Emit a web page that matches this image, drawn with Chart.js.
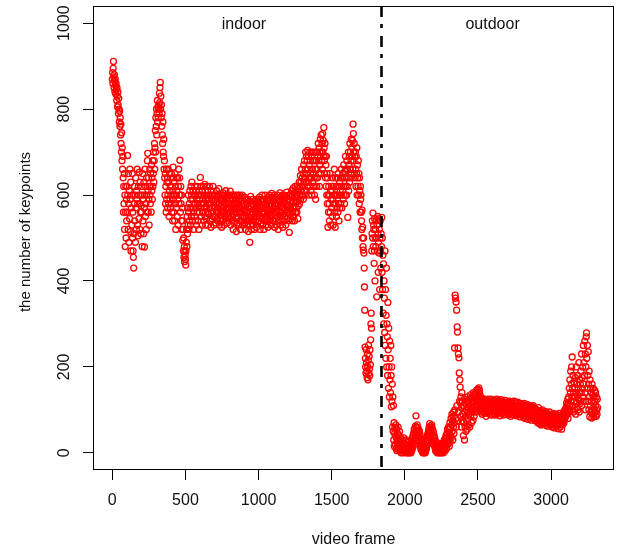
<!DOCTYPE html>
<html>
<head>
<meta charset="utf-8">
<script src="https://cdn.jsdelivr.net/npm/chart.js@4/dist/chart.umd.min.js"></script>
<style>
  body { margin: 0; background: #fff; }
</style>
</head>
<body>
<canvas id="keypoints" width="621" height="550"></canvas>
<script>
// keypoint count per video frame, one reading every 2 frames (10 readings = 20 frames per row)
const frameStep = 2;
const keypoints = [
    // 0 - 98
    870, 885, 860, 895, 911, 875, 850, 880, 865, 840,
    870, 855, 835, 860, 845, 820, 850, 830, 805, 840,
    810, 790, 825, 800, 770, 795, 760, 780, 740, 765,
    720, 700, 745, 680, 710, 660, 690, 640, 560, 620,
    580, 650, 520, 600, 480, 560, 620, 500, 590, 540,
    // 100 - 198
    620, 560, 692, 600, 520, 650, 580, 490, 610, 545,
    660, 590, 515, 630, 470, 570, 600, 530, 650, 500,
    560, 470, 455, 430, 510, 580, 620, 540, 600, 490,
    640, 570, 520, 610, 590, 660, 530, 580, 505, 620,
    600, 545, 653, 580, 520, 630, 560, 600, 510, 575,
    // 200 - 298
    560, 620, 480, 600, 650, 540, 590, 510, 630, 570,
    479, 600, 660, 550, 620, 580, 520, 640, 600, 560,
    680, 697, 610, 560, 640, 590, 530, 620, 660, 600,
    580, 650, 620, 560, 670, 610, 640, 590, 680, 620,
    650, 700, 630, 680, 720, 660, 710, 750, 700, 780,
    // 300 - 398
    760, 800, 740, 790, 820, 770, 805, 780, 810, 800,
    790, 837, 815, 850, 862, 800, 830, 780, 810, 760,
    790, 740, 720, 770, 700, 690, 730, 660, 680, 640,
    600, 650, 580, 620, 560, 660, 590, 630, 570, 640,
    600, 660, 580, 630, 550, 610, 650, 590, 620, 570,
    // 400 - 498
    620, 580, 650, 560, 600, 640, 540, 610, 665, 590,
    560, 630, 600, 540, 650, 580, 620, 520, 600, 640,
    570, 610, 550, 640, 590, 530, 620, 660, 580, 600,
    640, 681, 600, 560, 620, 580, 540, 600, 520, 570,
    540, 495, 520, 470, 500, 455, 480, 445, 470, 460,
    // 500 - 598
    450, 437, 470, 490, 520, 480, 550, 510, 570, 530,
    600, 560, 520, 580, 540, 610, 570, 530, 590, 620,
    550, 600, 630, 570, 540, 590, 610, 560, 520, 580,
    600, 550, 620, 580, 540, 600, 570, 610, 530, 590,
    560, 620, 580, 540, 600, 575, 520, 610, 560, 590,
    // 600 - 698
    600, 641, 570, 620, 550, 600, 580, 530, 610, 590,
    560, 620, 580, 540, 600, 570, 625, 550, 590, 530,
    600, 575, 545, 620, 590, 560, 610, 530, 580, 600,
    555, 590, 620, 570, 540, 600, 580, 525, 610, 560,
    590, 545, 600, 570, 620, 550, 585, 530, 600, 575,
    // 700 - 798
    570, 600, 550, 590, 535, 580, 610, 560, 545, 595,
    570, 540, 600, 560, 615, 580, 530, 590, 555, 600,
    575, 545, 590, 560, 525, 600, 570, 585, 540, 605,
    560, 590, 530, 575, 600, 550, 580, 545, 610, 565,
    590, 555, 600, 535, 570, 595, 545, 580, 560, 600,
    // 800 - 898
    570, 545, 590, 609, 560, 530, 580, 600, 550, 575,
    540, 590, 565, 520, 600, 555, 580, 535, 595, 560,
    575, 600, 545, 570, 515, 590, 560, 535, 580, 600,
    550, 575, 530, 590, 560, 600, 540, 570, 520, 585,
    560, 595, 540, 575, 600, 550, 530, 580, 565, 545,
    // 900 - 998
    580, 550, 595, 535, 565, 520, 575, 590, 545, 560,
    530, 580, 560, 540, 590, 515, 570, 550, 585, 540,
    490, 560, 530, 597, 575, 545, 520, 580, 560, 540,
    590, 555, 530, 575, 545, 565, 520, 585, 550, 570,
    540, 580, 560, 525, 590, 550, 570, 535, 585, 560,
    // 1000 - 1098
    555, 580, 540, 595, 565, 520, 575, 550, 590, 535,
    570, 545, 600, 560, 530, 585, 555, 575, 520, 590,
    560, 540, 580, 600, 550, 570, 530, 590, 565, 545,
    585, 555, 525, 595, 560, 575, 540, 600, 550, 580,
    545, 590, 565, 530, 580, 604, 555, 575, 540, 595,
    // 1100 - 1198
    560, 585, 540, 600, 570, 525, 590, 555, 575, 545,
    595, 560, 530, 580, 600, 550, 575, 520, 590, 565,
    540, 585, 560, 605, 550, 575, 530, 595, 560, 580,
    545, 600, 570, 525, 590, 555, 580, 540, 600, 565,
    585, 550, 595, 530, 575, 560, 607, 545, 590, 570,
    // 1200 - 1298
    560, 590, 540, 600, 575, 513, 585, 555, 600, 570,
    545, 595, 565, 610, 580, 540, 600, 560, 616, 585,
    550, 605, 575, 540, 595, 620, 560, 585, 610, 570,
    600, 560, 620, 585, 545, 607, 575, 615, 590, 630,
    580, 620, 600, 645, 590, 630, 610, 660, 600, 640,
    // 1300 - 1398
    620, 600, 650, 590, 670, 630, 610, 680, 640, 600,
    660, 700, 630, 610, 690, 650, 680, 620, 704, 660,
    630, 690, 600, 670, 640, 700, 620, 680, 650, 610,
    690, 640, 600, 700, 660, 630, 680, 620, 650, 700,
    640, 600, 680, 620, 660, 590, 700, 640, 680, 620,
    // 1400 - 1498
    660, 700, 640, 690, 720, 650, 680, 710, 620, 700,
    670, 730, 690, 650, 740, 700, 680, 720, 660, 743,
    700, 727, 690, 757, 710, 680, 650, 720, 690, 640,
    670, 620, 690, 600, 650, 580, 640, 525, 600, 560,
    620, 580, 540, 600, 650, 560, 610, 530, 590, 620,
    // 1500 - 1598
    570, 610, 550, 640, 590, 530, 620, 580, 600, 660,
    560, 600, 525, 640, 580, 620, 550, 600, 570, 640,
    600, 560, 650, 580, 620, 540, 600, 630, 570, 610,
    640, 580, 620, 660, 600, 570, 640, 610, 650, 590,
    620, 670, 600, 640, 580, 655, 620, 690, 600, 660,
    // 1600 - 1698
    640, 600, 680, 620, 660, 548, 640, 700, 610, 670,
    690, 630, 720, 660, 700, 640, 680, 730, 650, 711,
    690, 727, 660, 765, 743, 700, 680, 720, 650, 690,
    640, 700, 660, 620, 690, 650, 710, 600, 670, 640,
    620, 680, 600, 650, 580, 640, 610, 560, 620, 590,
    // 1700 - 1798
    600, 560, 540, 520, 565, 500, 525, 480, 472, 500,
    465, 430, 386, 332, 246, 220, 200, 185, 240, 210,
    190, 175, 230, 200, 170, 215, 250, 185, 225, 195,
    180, 240, 205, 263, 300, 325, 290, 470, 510, 540,
    500, 558, 480, 530, 520, 441, 470, 545, 400, 500,
    // 1800 - 1898
    520, 480, 540, 500, 363, 530, 470, 550, 510, 420,
    490, 545, 465, 520, 380, 500, 540, 470, 430, 510,
    480, 548, 420, 500, 380, 460, 325, 440, 300, 400,
    360, 280, 470, 250, 380, 220, 320, 430, 200, 300,
    270, 180, 350, 240, 150, 290, 200, 130, 260, 170,
    // 1900 - 1998
    220, 140, 250, 180, 107, 200, 120, 160, 60, 130,
    50, 110, 30, 70, 15, 45, 60, 20, 40, 65,
    10, 35, 55, 5, 25, 45, 15, 60, 30, 8,
    40, 20, 50, 5, 28, 12, 35, 0, 18, 25,
    6, 30, 14, 0, 22, 10, 35, 3, 15, 8,
    // 2000 - 2098
    20, 5, 28, 0, 12, 30, 4, 15, 0, 10,
    2, 18, 0, 8, 25, 3, 12, 0, 20, 6,
    15, 0, 10, 28, 5, 20, 35, 12, 40, 25,
    45, 30, 55, 20, 48, 35, 62, 40, 86, 50,
    60, 38, 65, 50, 30, 58, 45, 25, 52, 35,
    // 2100 - 2198
    50, 28, 42, 15, 35, 8, 25, 12, 30, 5,
    18, 0, 10, 3, 15, 0, 8, 20, 2, 12,
    0, 14, 6, 25, 10, 30, 18, 40, 22, 45,
    30, 52, 38, 60, 45, 68, 50, 35, 62, 42,
    58, 30, 65, 45, 25, 55, 38, 20, 48, 30,
    // 2200 - 2298
    40, 22, 35, 12, 28, 5, 20, 10, 25, 2,
    15, 0, 8, 18, 3, 12, 0, 6, 20, 2,
    10, 0, 15, 4, 8, 22, 0, 12, 5, 18,
    2, 14, 0, 25, 8, 30, 12, 20, 5, 35,
    18, 40, 25, 10, 45, 30, 55, 20, 38, 60,
    // 2300 - 2398
    30, 55, 15, 45, 70, 25, 60, 40, 80, 35,
    65, 90, 50, 75, 30, 85, 60, 95, 45, 70,
    244, 100, 367, 360, 80, 351, 60, 332, 110, 293,
    281, 75, 244, 230, 95, 221, 186, 120, 170, 153,
    116, 85, 130, 60, 105, 140, 75, 120, 90, 110,
    // 2400 - 2498
    40, 110, 70, 125, 30, 95, 60, 115, 85, 50,
    100, 75, 120, 55, 105, 130, 80, 95, 65, 115,
    90, 125, 60, 110, 135, 85, 100, 120, 70, 105,
    130, 95, 115, 75, 140, 100, 120, 85, 135, 110,
    125, 95, 140, 105, 120, 145, 100, 130, 115, 148,
    // 2500 - 2598
    120, 140, 110, 151, 130, 145, 100, 135, 115, 125,
    95, 120, 105, 128, 90, 115, 100, 122, 108, 95,
    118, 102, 125, 92, 110, 120, 98, 112, 85, 105,
    122, 100, 115, 92, 108, 125, 95, 112, 102, 118,
    90, 110, 120, 98, 105, 125, 88, 115, 100, 110,
    // 2600 - 2698
    115, 98, 108, 122, 92, 112, 100, 118, 88, 106,
    120, 96, 110, 102, 125, 90, 114, 100, 118, 94,
    108, 122, 98, 112, 86, 104, 118, 95, 110, 124,
    100, 115, 92, 108, 120, 96, 112, 88, 105, 118,
    95, 110, 102, 122, 90, 108, 116, 98, 112, 104,
    // 2700 - 2798
    110, 95, 118, 100, 88, 112, 104, 120, 92, 106,
    98, 115, 85, 108, 102, 118, 94, 110, 100, 90,
    112, 96, 106, 120, 88, 104, 115, 98, 108, 92,
    116, 100, 86, 110, 104, 95, 118, 90, 106, 100,
    94, 112, 98, 84, 108, 102, 115, 90, 100, 110,
    // 2800 - 2898
    100, 88, 108, 95, 112, 82, 102, 92, 115, 86,
    98, 110, 80, 104, 94, 100, 85, 108, 90, 112,
    96, 78, 105, 88, 100, 92, 110, 84, 98, 106,
    88, 102, 95, 76, 108, 90, 100, 84, 96, 110,
    92, 80, 104, 88, 98, 75, 102, 90, 85, 100,
    // 2900 - 2998
    90, 78, 100, 85, 70, 95, 82, 105, 75, 88,
    68, 92, 80, 98, 72, 86, 65, 95, 78, 84,
    100, 74, 88, 70, 94, 82, 66, 90, 78, 86,
    72, 96, 80, 64, 88, 76, 92, 70, 84, 62,
    90, 75, 82, 68, 95, 78, 86, 70, 80, 88,
    // 3000 - 3098
    80, 68, 88, 72, 60, 84, 75, 92, 65, 78,
    70, 86, 58, 76, 82, 66, 90, 72, 62, 80,
    74, 88, 64, 78, 56, 84, 70, 76, 92, 66,
    80, 60, 74, 86, 68, 78, 55, 82, 72, 90,
    66, 84, 75, 95, 70, 88, 78, 100, 82, 92,
    // 3100 - 3198
    85, 105, 95, 116, 90, 110, 100, 125, 80, 115,
    130, 95, 150, 110, 170, 100, 140, 190, 120, 160,
    200, 130, 223, 150, 110, 180, 95, 140, 165, 120,
    100, 150, 130, 175, 90, 140, 200, 115, 160, 105,
    135, 180, 100, 150, 125, 210, 95, 170, 140, 115,
    // 3200 - 3298
    160, 120, 190, 140, 230, 110, 175, 150, 200, 130,
    250, 160, 210, 120, 180, 260, 140, 230, 100, 200,
    270, 279, 220, 150, 250, 180, 120, 235, 160, 100,
    190, 130, 84, 170, 110, 150, 95, 140, 120, 81,
    160, 100, 135, 90, 150, 115, 84, 130, 100, 145,
    // 3300 - 3318
    120, 95, 140, 110, 85, 130, 100, 90, 125, 105
];

const xTicks = [0, 500, 1000, 1500, 2000, 2500, 3000];
const yTicks = [0, 200, 400, 600, 800, 1000];

// frame where the camera goes from indoor to outdoor
const sceneSplit = 1837;
const sceneLabels = ['indoor', 'outdoor'];
const sceneLabelFrames = [900, 2600];

const xTitle = 'video frame';
const yTitle = 'the number of keypoints';

const FONT = '"Liberation Sans", Arial, sans-serif';

// box, split line, rotated y labels and captions the R way
const rStyle = {
    id: 'rStyle',
    afterDraw(chart) {
        const ctx = chart.ctx;
        const a = chart.chartArea;
        const x = chart.scales.x;
        const y = chart.scales.y;
        ctx.save();

        const sx = Math.round(x.getPixelForValue(sceneSplit)) + 0.5;
        ctx.strokeStyle = '#000';
        ctx.lineWidth = 2.6;
        ctx.setLineDash([11, 7, 4, 8]);
        ctx.beginPath();
        ctx.moveTo(sx, a.top);
        ctx.lineTo(sx, a.bottom);
        ctx.stroke();
        ctx.setLineDash([]);

        ctx.lineWidth = 1;
        ctx.strokeRect(Math.round(a.left) + 0.5, Math.round(a.top) + 0.5,
                       Math.round(a.width) - 1, Math.round(a.height) - 1);

        ctx.fillStyle = '#111';
        ctx.font = '16px ' + FONT;
        ctx.textAlign = 'center';
        ctx.textBaseline = 'middle';
        y.ticks.forEach(t => {
            ctx.save();
            ctx.translate(64.5, y.getPixelForValue(t.value));
            ctx.rotate(-Math.PI / 2);
            ctx.fillText(String(t.value), 0, 0);
            ctx.restore();
        });

        sceneLabels.forEach((txt, i) => {
            ctx.fillText(txt, x.getPixelForValue(sceneLabelFrames[i]), y.getPixelForValue(1000) + 1);
        });

        ctx.fillText(xTitle, (a.left + a.right) / 2, 540);

        ctx.font = '15px ' + FONT;
        ctx.translate(26, 232);
        ctx.rotate(-Math.PI / 2);
        ctx.fillText(yTitle, 0, 0);
        ctx.restore();
    }
};

const points = keypoints.map((v, i) => ({ x: i * frameStep, y: v }));

const config = {
    type: 'scatter',
    data: {
        datasets: [
            {
                data: points,
                borderColor: 'rgb(255, 0, 0)',
                backgroundColor: 'rgba(0, 0, 0, 0)',
                borderWidth: 1.3,
                pointRadius: 3,
                pointHoverRadius: 3
            }
        ]
    },
    options: {
        responsive: false,
        animation: false,
        devicePixelRatio: 1,
        layout: { padding: { top: 6, right: 7, left: 0, bottom: 0 } },
        plugins: { legend: { display: false }, tooltip: { enabled: false } },
        scales: {
            x: {
                type: 'linear',
                min: -132,
                max: 3430,
                afterBuildTicks: s => { s.ticks = xTicks.map(v => ({ value: v })); },
                afterFit: s => { s.height = 80; },
                border: { display: false },
                grid: { drawOnChartArea: false, drawTicks: true, tickLength: 10, color: '#000' },
                ticks: {
                    color: '#111',
                    font: { family: FONT, size: 16 },
                    padding: 11,
                    maxRotation: 0,
                    autoSkip: false,
                    callback: v => String(v)
                }
            },
            y: {
                type: 'linear',
                min: -40,
                max: 1040,
                afterBuildTicks: s => { s.ticks = yTicks.map(v => ({ value: v })); },
                afterFit: s => { s.width = 93; },
                border: { display: false },
                grid: { drawOnChartArea: false, drawTicks: true, tickLength: 10, color: '#000' },
                ticks: { display: false }
            }
        }
    },
    plugins: [rStyle]
};

new Chart(document.getElementById('keypoints'), config);
</script>
</body>
</html>
